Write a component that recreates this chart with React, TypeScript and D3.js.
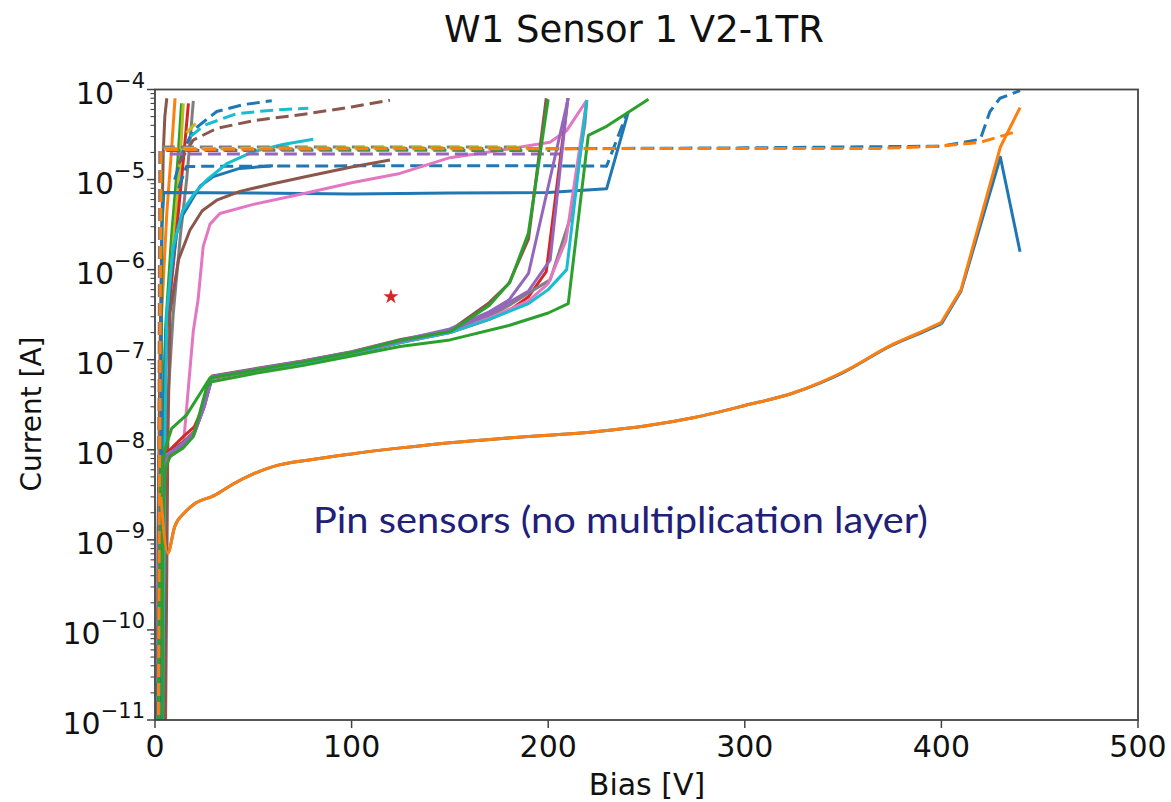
import React from "react";
import * as d3 from "d3";

type Pt = [number, number];

// ---- tick values ----
const xTicks = [0, 100, 200, 300, 400, 500];
const yExponents = [-4, -5, -6, -7, -8, -9, -10, -11];

// ---- pin sensors (no multiplication layer) ----
const pinBlue: Pt[] = [[3,3e-9],[6.5,7.2e-10],[10,1.4e-9],[15,2e-9],[20,2.5e-9],[30,3.1e-9],[40,4.2e-9],[50,5.4e-9],[60,6.5e-9],[80,7.8e-9],[100,9e-9],[125,1.05e-8],[150,1.2e-8],[175,1.33e-8],[200,1.45e-8],[225,1.6e-8],[250,1.85e-8],[275,2.3e-8],[300,3.1e-8],[325,4.3e-8],[350,7.2e-8],[375,1.45e-7],[390,2e-7],[400,2.5e-7],[410,5.8e-7],[430,1.77e-5],[440,1.58e-6]];
const pinOrange: Pt[] = [[3,3e-9],[6.5,7.1e-10],[10,1.4e-9],[15,2e-9],[20,2.5e-9],[30,3.1e-9],[40,4.2e-9],[50,5.4e-9],[60,6.5e-9],[80,7.8e-9],[100,9e-9],[125,1.05e-8],[150,1.2e-8],[175,1.33e-8],[200,1.45e-8],[225,1.6e-8],[250,1.85e-8],[275,2.3e-8],[300,3.1e-8],[325,4.3e-8],[350,7.3e-8],[375,1.47e-7],[390,2.05e-7],[400,2.6e-7],[410,6e-7],[430,2.3e-5],[440,6.3e-5]];
const pinBlueDashed: Pt[] = [[1,1e-12],[3,2.1e-5],[50,2.15e-5],[100,2.2e-5],[200,2.2e-5],[300,2.25e-5],[400,2.35e-5],[419.6,2.8e-5],[420.5,3.1e-5],[424.7,5.7e-5],[429.8,8e-5],[440,9.7e-5]];
const pinOrangeDashed: Pt[] = [[1.5,1e-12],[3,2.15e-5],[100,2.2e-5],[200,2.2e-5],[300,2.22e-5],[369,2.22e-5],[400,2.35e-5],[420,2.6e-5],[438,3.4e-5]];

// ---- early (upper) curves ----
const blueFlat: Pt[] = [[2,1e-12],[3.5,3e-6],[4.5,7.2e-6],[50,7.1e-6],[100,6.9e-6],[150,7.1e-6],[200,7.2e-6],[229.7,7.9e-6],[240.8,5.7e-5]];
const blueDashedMid: Pt[] = [[12,8e-6],[16,1.4e-5],[100,1.42e-5],[200,1.42e-5],[229.7,1.41e-5],[240,5.4e-5]];
const blueRise: Pt[] = [[3,1e-12],[4,1e-8],[5.5,2e-7],[8,8e-7],[11,2.5e-6],[14,4e-6],[17.8,5.5e-6],[23,8.5e-6],[29.7,1.08e-5],[43,1.33e-5],[60,1.42e-5]];
const cyanRise: Pt[] = [[4,1e-12],[5,1e-8],[6,3.3e-7],[9.3,1.8e-6],[14,4.5e-6],[20,7e-6],[26.3,9.9e-6],[36.5,1.5e-5],[50,2.04e-5],[65,2.45e-5],[80.5,2.8e-5]];
const brownRise: Pt[] = [[5,1e-12],[6.5,1e-8],[7.6,3.3e-7],[12,1.3e-6],[17.8,2.75e-6],[24,4.5e-6],[31.4,5.9e-6],[43.2,7.4e-6],[60,9e-6],[77,1.08e-5],[100,1.38e-5],[119.5,1.65e-5]];
const pinkRise: Pt[] = [[0.5,1e-12],[2.5,2.5e-9],[5,7e-9],[10,9.5e-9],[14.4,1.1e-8],[19.5,2.1e-7],[21.9,4.6e-7],[24.5,1.8e-6],[28,3.2e-6],[33,4.2e-6],[50,5.3e-6],[77,7.1e-6],[100,9.2e-6],[124.6,1.17e-5],[150,1.75e-5],[175,2.1e-5],[200.9,2.6e-5],[209.4,3.5e-5],[219.6,7.6e-5]];

const brownFast: Pt[] = [[1,1e-12],[1.5,1e-9],[2.5,1e-7],[3.5,3e-6],[4.2,2e-5],[5,5e-5],[6,8e-5]];
const orangeFast: Pt[] = [[1.5,1e-12],[2.5,1e-8],[3.4,3.3e-7],[6,4.2e-6],[8.5,2.3e-5],[10.2,8e-5]];
const oliveFast: Pt[] = [[2,1e-12],[4,1e-8],[6,2.1e-7],[9.2,1.8e-6],[12.7,1.5e-5],[14.4,7e-5]];
const greenFast: Pt[] = [[2,1e-12],[3.5,1e-8],[5.5,2.5e-7],[8.5,2.5e-6],[11.5,1.5e-5],[13.5,7e-5]];
const redFast: Pt[] = [[2.5,1e-12],[4,1e-8],[6,2.1e-7],[10.2,1.8e-6],[13.5,1e-5],[15.5,3e-5],[17,7e-5]];
const grayFast: Pt[] = [[3,1e-12],[5,1e-8],[9.3,3.3e-7],[13,2.5e-6],[16.1,1e-5],[18,3e-5],[19.5,7.5e-5]];

const blueDashTop: Pt[] = [[10,1e-5],[14,2e-5],[19.5,3.55e-5],[31.4,5.7e-5],[45,6.8e-5],[59.4,7.5e-5]];
const cyanDashTop: Pt[] = [[18,3e-5],[25,4e-5],[41.5,5.4e-5],[60,5.9e-5],[78,6.2e-5]];
const brownDashTop: Pt[] = [[12,1.5e-5],[19.5,2.75e-5],[31.4,3.7e-5],[50,4.5e-5],[78,5.4e-5],[100,6.4e-5],[119.5,7.6e-5]];
const oliveDashTop: Pt[] = [[16,3.3e-5],[22,4.5e-5]];

const greenDashFlat: Pt[] = [[2.5,1e-12],[3.5,2.1e-5],[100,2.12e-5],[201,2.1e-5]];
const oliveDashFlat: Pt[] = [[2,1e-12],[3,2.2e-5],[100,2.25e-5],[190,2.25e-5]];
const purpleDashFlat: Pt[] = [[2,1e-12],[3,1.92e-5],[100,1.92e-5],[210,1.92e-5]];
const grayDashFlat: Pt[] = [[1.5,1e-12],[2.5,2.3e-5],[100,2.3e-5],[185,2.3e-5]];
const pinkDashFlat: Pt[] = [[2,1e-12],[2.2,1e-6],[2.5,2.2e-5],[40,2.2e-5]];

// ---- multiplication-layer curves (breakdown ~200 V) ----
const lowPurpleA: Pt[] = [[0.5,1e-12],[2.5,2.8e-9],[5,8e-9],[10,1e-8],[15,1.15e-8],[20,1.5e-8],[25,3e-8],[29,6.5e-8],[50,7.8e-8],[75,9.6e-8],[100,1.22e-7],[125,1.65e-7],[150,2.2e-7],[170,3.4e-7],[180,4.6e-7],[190,9.1e-7],[210.2,8e-5]];
const lowPurpleB: Pt[] = [[0.5,1e-12],[2.5,2.8e-9],[5,8.2e-9],[10,1e-8],[15,1.2e-8],[20,1.55e-8],[25,3.1e-8],[29,6.4e-8],[50,7.7e-8],[75,9.5e-8],[100,1.2e-7],[125,1.6e-7],[150,2.1e-7],[170,3.2e-7],[190,5.8e-7],[201,1.28e-6],[210,8e-5]];
const lowGreenEarly: Pt[] = [[1,1e-12],[3,5e-9],[5,1e-8],[8.5,1.73e-8],[16.1,2.44e-8],[28,6.3e-8],[50,7.6e-8],[75,9.4e-8],[100,1.2e-7],[125,1.65e-7],[150,2.05e-7],[170,4e-7],[180.6,7.3e-7],[189.9,2.53e-6],[200,7.8e-5]];
const lowBrown: Pt[] = [[1,1e-12],[3,4e-9],[5,9e-9],[10,1.05e-8],[15,1.25e-8],[20,1.6e-8],[25,3.2e-8],[29,6.6e-8],[50,7.9e-8],[75,9.7e-8],[100,1.23e-7],[125,1.68e-7],[150,2.1e-7],[170,4.3e-7],[180,7e-7],[190,2.2e-6],[199,8e-5]];
const lowRed: Pt[] = [[1,1e-12],[2.5,3e-9],[5,9e-9],[7.6,1e-8],[14.4,1.4e-8],[20,1.8e-8],[25,3.2e-8],[29,6.2e-8],[50,7.5e-8],[75,9.2e-8],[100,1.15e-7],[125,1.55e-7],[150,2e-7],[170,2.8e-7],[180,3.5e-7],[190,5e-7],[199,9.5e-7],[210,8e-5]];
const lowGray: Pt[] = [[1,1e-12],[2.5,3e-9],[5,8.5e-9],[10,1e-8],[15,1.2e-8],[20,1.55e-8],[25,3e-8],[29,6.4e-8],[50,7.7e-8],[75,9.4e-8],[100,1.2e-7],[125,1.6e-7],[150,2.05e-7],[170,3e-7],[180,4e-7],[190,5.5e-7],[201,7.7e-7],[211,3.6e-6],[218.7,4.2e-5],[219.6,7.6e-5]];
const lowPink: Pt[] = [[1,1e-12],[2.5,3e-9],[5,8.5e-9],[10,1e-8],[15,1.2e-8],[20,1.55e-8],[25,3e-8],[29,6.3e-8],[50,7.6e-8],[75,9.3e-8],[100,1.18e-7],[125,1.58e-7],[150,2e-7],[170,2.9e-7],[190,4.5e-7],[200,7e-7],[209,2.1e-6],[219.6,7.6e-5]];
const lowCyan: Pt[] = [[1,1e-12],[2.5,3e-9],[5,8.5e-9],[10,1e-8],[15,1.2e-8],[20,1.55e-8],[25,3e-8],[29,6.3e-8],[50,7.6e-8],[75,9.2e-8],[100,1.17e-7],[125,1.55e-7],[150,2e-7],[170,2.8e-7],[190,4.2e-7],[200,6e-7],[209.4,1e-6],[219.6,7.6e-5]];
const lowGreenLate: Pt[] = [[3.5,1e-12],[4,1e-9],[5,6e-9],[7.6,8.4e-9],[14.4,1.05e-8],[19.5,1.4e-8],[26.3,5e-8],[28.8,5.7e-8],[50,7e-8],[75,8.6e-8],[100,1.1e-7],[124.6,1.4e-7],[150,1.66e-7],[180,2.4e-7],[200,3.3e-7],[210.2,4.2e-7],[220.4,3.1e-5],[229.7,3.9e-5],[251,7.8e-5]];

const starPoint: Pt = [120, 5e-7];

// Bias above which the pin curves are drawn with straight segments (sharp breakdown)
const smoothLimit = 400;

const C = {
  blue: "#1f77b4", orange: "#ff7f0e", green: "#2ca02c", red: "#d62728", purple: "#9467bd",
  brown: "#8c564b", pink: "#e377c2", gray: "#7f7f7f", olive: "#bcbd22", cyan: "#17becf",
};

const series: { data: Pt[]; color: string; dashed: boolean; smooth?: boolean }[] = [
  { data: brownFast, color: C.brown, dashed: false },
  { data: orangeFast, color: C.orange, dashed: false },
  { data: greenFast, color: C.green, dashed: false },
  { data: oliveFast, color: C.olive, dashed: false },
  { data: redFast, color: C.red, dashed: false },
  { data: grayFast, color: C.gray, dashed: false },
  { data: blueFlat, color: C.blue, dashed: false },
  { data: blueDashedMid, color: C.blue, dashed: true },
  { data: blueRise, color: C.blue, dashed: false },
  { data: cyanRise, color: C.cyan, dashed: false },
  { data: brownRise, color: C.brown, dashed: false },
  { data: pinkRise, color: C.pink, dashed: false },
  { data: blueDashTop, color: C.blue, dashed: true },
  { data: cyanDashTop, color: C.cyan, dashed: true },
  { data: brownDashTop, color: C.brown, dashed: true },
  { data: oliveDashTop, color: C.olive, dashed: true },
  { data: pinkDashFlat, color: C.pink, dashed: true },
  { data: grayDashFlat, color: C.gray, dashed: true },
  { data: oliveDashFlat, color: C.olive, dashed: true },
  { data: greenDashFlat, color: C.green, dashed: true },
  { data: purpleDashFlat, color: C.purple, dashed: true },
  { data: lowBrown, color: C.brown, dashed: false },
  { data: lowRed, color: C.red, dashed: false },
  { data: lowGray, color: C.gray, dashed: false },
  { data: lowPink, color: C.pink, dashed: false },
  { data: lowCyan, color: C.cyan, dashed: false },
  { data: lowPurpleB, color: C.purple, dashed: false },
  { data: lowPurpleA, color: C.purple, dashed: false },
  { data: lowGreenEarly, color: C.green, dashed: false },
  { data: lowGreenLate, color: C.green, dashed: false },
  { data: pinBlue, color: C.blue, dashed: false, smooth: true },
  { data: pinOrange, color: C.orange, dashed: false, smooth: true },
  { data: pinBlueDashed, color: C.blue, dashed: true },
  { data: pinOrangeDashed, color: C.orange, dashed: true },
];

const W = 1171, H = 802;
const M = { left: 155, right: 1138, top: 89.5, bottom: 720 };
const FONT = "'DejaVu Sans', sans-serif";

export default function App() {
  const x = d3.scaleLinear().domain([0, 500]).range([M.left, M.right]);
  const y = d3.scaleLog().domain([1e-11, 1e-4]).range([M.bottom, M.top]);
  const line = d3.line<Pt>().x((d) => x(d[0])).y((d) => y(d[1]));
  const smoothLine = d3.line<Pt>().x((d) => x(d[0])).y((d) => y(d[1])).curve(d3.curveMonotoneX);

  const pathFor = (s: { data: Pt[]; smooth?: boolean }) => {
    if (!s.smooth) return line(s.data) || "";
    const a = s.data.filter((d) => d[0] <= smoothLimit);
    const b = s.data.filter((d) => d[0] >= smoothLimit);
    return (smoothLine(a) || "") + (b.length > 1 ? line(b) || "" : "");
  };

  const minor: number[] = [];
  for (let e = -11; e < -4; e++) for (let k = 2; k <= 9; k++) minor.push(k * Math.pow(10, e));

  const star = d3.symbol().type(d3.symbolStar).size(70)();

  return (
    <svg width={W} height={H} style={{ position: "absolute", left: 0, top: 0, background: "#fff" }}>
      <defs>
        <clipPath id="plot">
          <rect x={M.left} y={M.top} width={M.right - M.left} height={M.bottom - M.top} />
        </clipPath>
      </defs>
      <text x={634} y={42} textAnchor="middle" fontFamily={FONT} fontSize={37} fill="#111">W1 Sensor 1 V2-1TR</text>

      <g clipPath="url(#plot)">
        {series.map((s, i) => (
          <path key={i} d={pathFor(s)} fill="none" stroke={s.color} strokeWidth={3}
            strokeDasharray={s.dashed ? "13,6" : undefined} strokeLinejoin="round" />
        ))}
        <path d={star || ""} transform={`translate(${x(starPoint[0])},${y(starPoint[1])})`} fill={C.red} />
      </g>

      {/* frame */}
      <rect x={M.left} y={M.top} width={M.right - M.left} height={M.bottom - M.top} fill="none" stroke="#444" strokeWidth={1.8} />

      {/* x ticks */}
      {xTicks.map((t) => (
        <g key={t}>
          <line x1={x(t)} x2={x(t)} y1={M.bottom} y2={M.bottom + 8} stroke="#444" strokeWidth={1.5} />
          <text x={x(t)} y={757} textAnchor="middle" fontFamily={FONT} fontSize={30} fill="#111">{t}</text>
        </g>
      ))}
      <text x={647} y={795} textAnchor="middle" fontFamily={FONT} fontSize={30} fill="#111">Bias [V]</text>

      {/* y ticks */}
      {minor.map((v, i) => (
        <line key={i} x1={M.left - 4.5} x2={M.left} y1={y(v)} y2={y(v)} stroke="#444" strokeWidth={1.1} />
      ))}
      {yExponents.map((e) => {
        const yy = y(Math.pow(10, e));
        return (
          <g key={e}>
            <line x1={M.left - 8} x2={M.left} y1={yy} y2={yy} stroke="#444" strokeWidth={1.5} />
            <text x={145} y={yy + 14} textAnchor="end" fontFamily={FONT} fill="#111">
              <tspan fontSize={30}>10</tspan>
              <tspan fontSize={21} dy={-16}>{"\u2212" + Math.abs(e)}</tspan>
            </text>
          </g>
        );
      })}
      <text transform="translate(41,414) rotate(-90)" textAnchor="middle" fontFamily={FONT} fontSize={28} fill="#111">Current [A]</text>

      <text x={313} y={533} fontFamily="Lato, 'Open Sans', sans-serif" fontSize={37} fill="#1f2079"
        textLength={615} lengthAdjust="spacingAndGlyphs">Pin sensors (no multiplication layer)</text>
    </svg>
  );
}
